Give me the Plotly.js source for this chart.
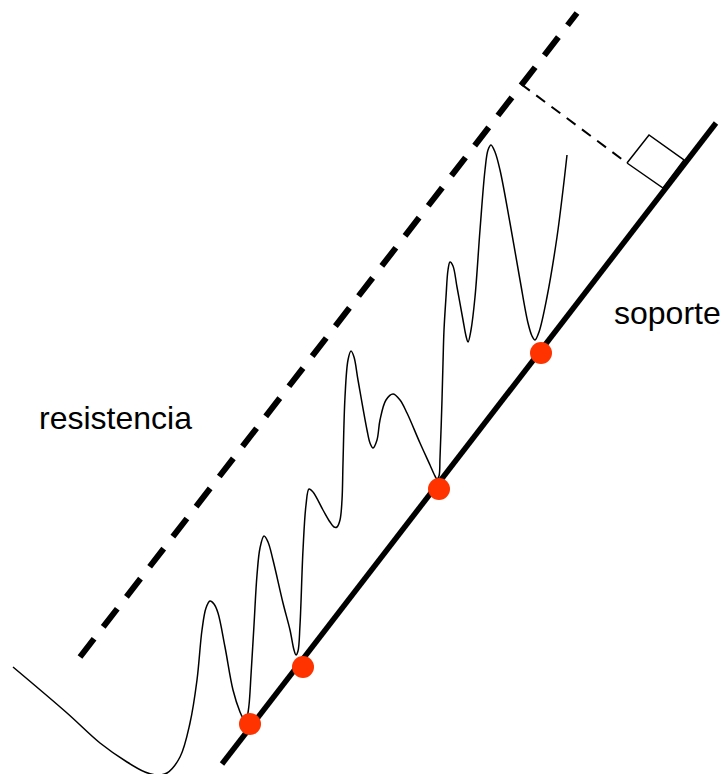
<!DOCTYPE html>
<html>
<head>
<meta charset="utf-8">
<script src="https://cdn.plot.ly/plotly-3.0.1.min.js"></script>
<style>
  html, body { margin: 0; padding: 0; background: #fff; }
  #chart { width: 724px; height: 774px; }
</style>
</head>
<body>
<div id="chart"></div>
<script>
// price path (pixel-like units, y grows downward)
const priceX = [13, 67, 100, 127, 145, 157, 167, 180, 190, 197, 202, 206, 210, 214, 218, 225, 233, 240, 243, 245,
  247, 249, 251, 254, 257, 260, 264, 268, 273, 283, 290, 294, 296, 298, 300, 303, 306, 309, 313, 323,
  330, 334, 337, 340, 342, 343, 345, 348, 351, 354, 358, 367, 370, 373, 377, 380, 386, 393, 400, 407,
  420, 430, 434, 437, 439, 440, 442, 443, 444, 446, 448, 450, 453, 457, 463, 466, 468, 471, 475, 480,
  485, 488, 491, 495, 500, 510, 520, 528, 532, 535, 539, 547, 557, 563, 567];
const priceY = [667, 713, 743, 762, 772, 775, 773, 757, 723, 680, 630, 608, 601, 604, 613, 647, 690, 712, 718, 720,
  717, 705, 675, 625, 575, 548, 536, 542, 560, 603, 630, 650, 655, 651, 625, 550, 505, 489, 492, 510,
  522, 527, 527, 520, 500, 463, 397, 360, 351, 357, 380, 430, 443, 448, 440, 420, 400, 394, 400, 413,
  443, 465, 474, 479, 476, 458, 400, 363, 330, 297, 270, 262, 266, 287, 320, 336, 342, 330, 297, 230,
  170, 150, 145, 152, 170, 223, 280, 323, 336, 340, 332, 297, 237, 190, 155];

// trend lines
const supportX = [222, 716];
const supportY = [764, 123];
const resistX = [80, 577];
const resistY = [657, 13];

// perpendicular distance marker + right-angle box
const perpX = [521, 627];
const perpY = [84, 163];
const boxX = [627, 649, 684, 663, 627];
const boxY = [163, 135, 160, 188, 163];

// touch points on support
const touchX = [250, 303, 439, 541];
const touchY = [724, 667, 489, 353];

const traces = [
  { x: resistX, y: resistY, mode: 'lines', line: { color: '#000', width: 6, dash: '23px,15px' } },
  { x: supportX, y: supportY, mode: 'lines', line: { color: '#000', width: 5.5 } },
  { x: perpX, y: perpY, mode: 'lines', line: { color: '#000', width: 2, dash: '11px,8px' } },
  { x: boxX, y: boxY, mode: 'lines', line: { color: '#000', width: 1.5 } },
  { x: priceX, y: priceY, mode: 'lines', line: { color: '#000', width: 1.5, shape: 'spline', smoothing: 1 } },
  { x: touchX, y: touchY, mode: 'markers', marker: { color: '#ff3300', size: 22 } }
];

const layout = {
  width: 724,
  height: 774,
  margin: { l: 0, r: 0, t: 0, b: 0 },
  paper_bgcolor: '#fff',
  plot_bgcolor: '#fff',
  showlegend: false,
  xaxis: { range: [0, 724], visible: false, fixedrange: true },
  yaxis: { range: [774, 0], visible: false, fixedrange: true },
  font: { family: 'Liberation Sans, Arial, sans-serif', color: '#000' },
  annotations: [
    { x: 115, y: 418, xref: 'x', yref: 'y', text: 'resistencia', showarrow: false, font: { size: 32 } },
    { x: 667, y: 313, xref: 'x', yref: 'y', text: 'soporte', showarrow: false, font: { size: 32 } }
  ]
};

Plotly.newPlot('chart', traces, layout, { staticPlot: true, displayModeBar: false });
</script>
</body>
</html>
